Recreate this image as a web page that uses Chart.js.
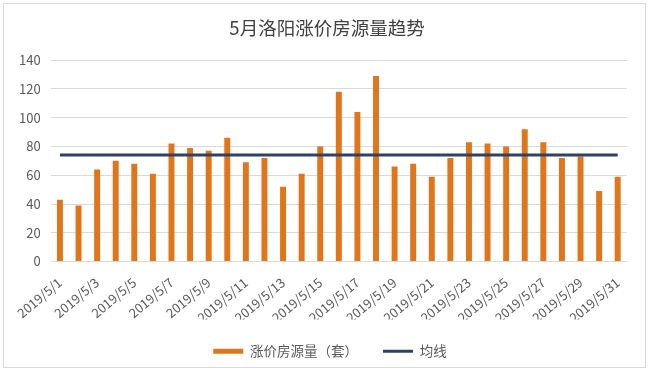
<!DOCTYPE html>
<html>
<head>
<meta charset="utf-8">
<script src="https://cdn.jsdelivr.net/npm/chart.js@4"></script>
<style>
    html, body { margin: 0; padding: 0; background: #fff; }
    #wrap {
        position: absolute; left: 3px; top: 3px;
        width: 643px; height: 365px;
        border: 1px solid #d9d9d9;
        box-sizing: border-box;
    }
    #chart { position: absolute; left: 0; top: 0; }
</style>
</head>
<body>
<div id="wrap"></div>
<canvas id="chart" width="650" height="375"></canvas>
<script>
    // 5月每日涨价房源量（套）
    const dates = [
        '2019/5/1', '2019/5/2', '2019/5/3', '2019/5/4', '2019/5/5', '2019/5/6', '2019/5/7', '2019/5/8',
        '2019/5/9', '2019/5/10', '2019/5/11', '2019/5/12', '2019/5/13', '2019/5/14', '2019/5/15', '2019/5/16',
        '2019/5/17', '2019/5/18', '2019/5/19', '2019/5/20', '2019/5/21', '2019/5/22', '2019/5/23', '2019/5/24',
        '2019/5/25', '2019/5/26', '2019/5/27', '2019/5/28', '2019/5/29', '2019/5/30', '2019/5/31'
    ];
    const riseCounts = [
        43, 39, 64, 70, 68, 61, 82, 79, 77, 86, 69, 72, 52, 61, 80, 118,
        104, 129, 66, 68, 59, 72, 83, 82, 80, 92, 83, 72, 73, 49, 59
    ];
    const avgLine = [
        74, 74, 74, 74, 74, 74, 74, 74, 74, 74, 74, 74, 74, 74, 74, 74,
        74, 74, 74, 74, 74, 74, 74, 74, 74, 74, 74, 74, 74, 74, 74
    ];
    const yTicks = [0, 20, 40, 60, 80, 100, 120, 140];

    const FONT = '"Noto Sans CJK SC", "Liberation Sans", sans-serif';
    const BAR_COLOR = '#E0761C';
    const LINE_COLOR = '#2F4265';
    Chart.defaults.font.family = FONT;
    Chart.defaults.color = '#595959';

    // title and legend sit a bit right of the layout centre in the original
    const nudgeBlocks = {
        id: 'nudgeBlocks',
        afterLayout: function(chart) {
            if (chart.titleBlock) {
                chart.titleBlock.left += 9;
                chart.titleBlock.right += 9;
            }
            if (chart.legend) {
                chart.legend.left += 12;
                chart.legend.right += 12;
            }
        }
    };

    new Chart(document.getElementById('chart'), {
        type: 'bar',
        data: {
            labels: dates,
            datasets: [
                {
                    type: 'bar',
                    label: '涨价房源量（套）',
                    data: riseCounts,
                    backgroundColor: BAR_COLOR,
                    barPercentage: 0.32,
                    categoryPercentage: 1,
                    order: 2
                },
                {
                    type: 'line',
                    label: '均线',
                    data: avgLine,
                    borderColor: LINE_COLOR,
                    backgroundColor: LINE_COLOR,
                    borderWidth: 3,
                    pointRadius: 0,
                    fill: false,
                    order: 1
                }
            ]
        },
        plugins: [nudgeBlocks],
        options: {
            responsive: false,
            animation: false,
            // y tick padding counts twice in the axis width, so keep this small
            layout: { padding: { left: 9, right: 23, top: 8, bottom: 7 } },
            plugins: {
                title: {
                    display: true,
                    text: '5月洛阳涨价房源量趋势',
                    color: '#404040',
                    font: { size: 18.5, weight: 'normal' },
                    padding: { top: 9, bottom: 21 }
                },
                legend: {
                    position: 'bottom',
                    labels: {
                        color: '#595959',
                        font: { size: 13.5 },
                        usePointStyle: true,
                        pointStyleWidth: 30,
                        boxHeight: 5,
                        padding: 25,
                        sort: function(a, b) { return a.datasetIndex - b.datasetIndex; },
                        generateLabels: function(chart) {
                            const items = Chart.defaults.plugins.legend.labels.generateLabels(chart);
                            items.forEach(function(it) {
                                if (it.datasetIndex === 1) {
                                    it.pointStyle = 'line';
                                    it.strokeStyle = LINE_COLOR;
                                    it.lineWidth = 3;
                                } else {
                                    it.pointStyle = 'rect';
                                    it.fillStyle = BAR_COLOR;
                                    it.lineWidth = 0;
                                }
                            });
                            return items;
                        }
                    }
                },
                tooltip: { enabled: false }
            },
            scales: {
                x: {
                    grid: { display: false },
                    border: { display: false },
                    afterFit: function(scale) {
                        // let the rotated first label hang into the left margin
                        scale.paddingLeft = 0;
                        scale.height -= 11;
                    },
                    ticks: {
                        autoSkip: false,
                        minRotation: 40,
                        maxRotation: 40,
                        font: { size: 13 },
                        padding: 5,
                        callback: function(value, index) {
                            return index % 2 === 0 ? dates[index] : '';
                        }
                    }
                },
                y: {
                    min: 0,
                    max: 140,
                    afterBuildTicks: function(scale) {
                        scale.ticks = yTicks.map(function(v) { return { value: v }; });
                    },
                    grid: { color: '#d9d9d9', drawTicks: false },
                    border: { display: false },
                    ticks: { font: { size: 13 }, padding: 10 }
                }
            }
        }
    });
</script>
</body>
</html>
